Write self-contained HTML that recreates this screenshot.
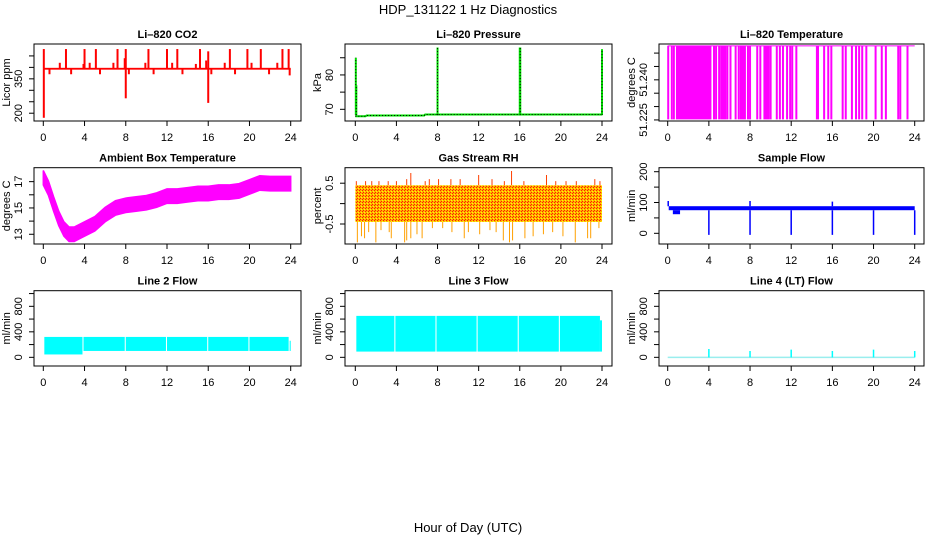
<!DOCTYPE html>
<html><head><meta charset="utf-8">
<style>
html,body{margin:0;padding:0;background:#fff;}
svg{display:block;font-family:"Liberation Sans",sans-serif;}
</style></head>
<body>
<svg id="chart" width="936" height="540" viewBox="0 0 936 540" xmlns="http://www.w3.org/2000/svg">
<defs>
<pattern id="rhpat" width="3" height="3" patternUnits="userSpaceOnUse">
<rect width="3" height="3" fill="#ffb000"/>
<rect x="0" y="0" width="1" height="1" fill="#ff2000"/>
<rect x="2" y="1" width="1" height="1" fill="#ff2000"/>
<rect x="1" y="2" width="1" height="1" fill="#ffff00"/>
</pattern>
</defs>
<text x="468" y="14" font-size="13" text-anchor="middle">HDP_131122  1 Hz Diagnostics</text>
<text x="468" y="532" font-size="13" text-anchor="middle">Hour of Day (UTC)</text>
</svg>
<script>
// ---- data ----
const xTicks = [0,4,8,12,16,20,24];
const co2Base = 394;
const co2SpikeHours = [0.05,2.2,4.0,5.1,7.2,8.0,10.2,12.0,13.0,15.2,16.0,18.1,19.8,21.1,23.2,23.8,1.6,3.9,4.5,6.8,7.9,9.9,12.5,14.8,15.8,17.6,20.2,22.7,0.6,2.7,5.5,8.3,10.7,13.5,16.3,18.6,21.9,23.9,0.05,8.0,16.0];
const co2SpikeValues = [480,480,480,480,480,480,480,480,480,480,470,480,480,480,480,480,420,415,420,420,440,420,420,415,430,420,420,420,370,370,370,370,370,370,370,370,370,365,180,265,245];
const presHours = [0,1,1.1,6.7,6.8,24];
const presValues = [68.0,68.0,68.2,68.2,68.5,68.5];
const presSpikeHours = [0.05,0.1,8.0,16.0,16.05,24.0];
const presSpikeValues = [85,77,88,88,88,87.5];
const tempHigh = 51.2527, tempLow = 51.2252;
const tempDenseStart = [0.8,5.1,7.0,9.3,14.4];
const tempDenseEnd = [4.25,5.7,7.6,9.9,14.7];
const tempFlipHours = [0.05,0.4,0.6,4.5,4.7,5.0,5.8,6.1,6.6,6.9,7.8,8.0,8.7,9.0,10.0,10.6,10.9,11.2,11.6,11.9,12.1,12.5,15.2,15.6,15.9,17.0,17.3,17.9,18.3,18.6,18.9,19.3,20.2,20.8,21.2,22.4,22.6,23.3];
const ambHours = [0,0.5,1,1.5,2,2.5,3,3.5,4,5,6,7,8,9,10,11,12,13,14,15,16,17,18,19,20,21,22,23,24];
const ambValues = [17.3,16.5,15.3,14.2,13.4,13.0,13.0,13.2,13.4,13.8,14.5,15.0,15.2,15.3,15.4,15.6,15.9,15.9,16.0,16.1,16.1,16.2,16.2,16.3,16.6,16.9,16.85,16.85,16.85];
const ambHalfWidth = 0.55;
const rhTop = 0.45, rhBottom = -0.45;
const rhUpHours = [0.1,1.0,1.6,2.3,3.2,4.0,5.0,5.4,6.8,7.2,8.1,9.3,10.2,12.0,13.3,14.5,15.2,16.4,18.6,19.5,20.5,21.5,23.3,23.8];
const rhUpValues = [0.55,0.55,0.55,0.55,0.55,0.55,0.6,0.75,0.55,0.6,0.6,0.6,0.6,0.7,0.6,0.55,0.8,0.55,0.7,0.55,0.55,0.55,0.6,0.55];
const rhDownHours = [0.2,0.6,0.9,1.3,2.0,2.5,3.3,3.5,4.8,5.0,5.4,6.0,6.5,7.5,8.5,9.4,10.6,11.0,12.1,13.1,13.7,14.4,15.0,15.3,16.5,17.3,18.3,19.2,20.2,21.4,22.6,22.9,23.7];
const rhDownValues = [-0.95,-0.8,-0.85,-0.7,-0.95,-0.65,-0.7,-0.85,-0.95,-0.9,-0.85,-0.75,-0.85,-0.6,-0.6,-0.7,-0.85,-0.7,-0.75,-0.65,-0.7,-0.9,-0.95,-0.9,-0.85,-0.8,-0.75,-0.7,-0.8,-0.95,-0.85,-0.85,-0.6];
const sfLow = 75, sfHigh = 88;
const sfDipHours = [4,8,12,16,20,24];
const sfDipValues = [-5,-5,-5,-5,-5,-5];
const sfSpikeHours = [0.05,8.0,16.0];
const sfSpikeValues = [105,105,103];
const l2Start = [0.1,3.9,8.0,12.0,16.0,20.0,23.9];
const l2End = [3.8,7.9,11.9,15.9,19.9,23.8,24.0];
const l2Low = [45,100,100,100,100,100,100];
const l2High = [320,320,320,320,320,320,260];
const l3Start = [0.1,3.9,7.9,11.9,15.9,19.9,23.8];
const l3End = [3.8,7.8,11.8,15.8,19.8,23.8,24.0];
const l3Low = [90,90,90,90,90,90,90];
const l3High = [650,650,650,650,650,650,580];
const l4SpikeHours = [4,8,12,16,20,24];
const l4SpikeValues = [130,100,120,100,120,100];

// ---- layout ----
const NS = "http://www.w3.org/2000/svg";
const svg = document.getElementById('chart');
const cols = [{bx0:34,bx1:301,x0:43.3,x1:290.7},{bx0:345,bx1:612,x0:355.3,x1:602},{bx0:659,bx1:924,x0:667.7,x1:914.7}];
const rows = [{by0:44,by1:121},{by0:167.7,by1:244},{by0:290.7,by1:366}];
function mk(tag, attrs, parent){const e=document.createElementNS(NS,tag);for(const k in attrs)e.setAttribute(k,attrs[k]);(parent||svg).appendChild(e);return e;}

function panel(ci, ri, name, title, ylab, ymin, ymax, ticks, labels, draw){
  const c=cols[ci], r=rows[ri];
  const g=mk('g',{});
  
  
  const X=h=>c.x0+(c.x1-c.x0)*h/24;
  const Y=v=>r.by1-(r.by1-r.by0)*(v-ymin)/(ymax-ymin);
  const cid='clip-'+name;
  const cp=mk('clipPath',{id:cid},g); mk('rect',{x:c.bx0,y:r.by0,width:c.bx1-c.bx0,height:r.by1-r.by0},cp);
  const plot=mk('g',{'clip-path':'url(#'+cid+')'},g);
  
  
  draw(plot,X,Y);
  const box=mk('rect',{x:c.bx0,y:r.by0,width:c.bx1-c.bx0,height:r.by1-r.by0,fill:'none',stroke:'#000','stroke-width':1},g);
  
  
  const t=mk('text',{x:(c.bx0+c.bx1)/2,y:r.by0-6,'font-size':11,'font-weight':'bold','text-anchor':'middle'},g);
  t.textContent=title;
  
  
  // x axis
  const xa=mk('g',{},g);
  
  
  xTicks.forEach(h=>{
    mk('line',{x1:X(h),x2:X(h),y1:r.by1,y2:r.by1+5,stroke:'#000'},xa);
    const tx=mk('text',{x:X(h),y:r.by1+20,'font-size':11,'text-anchor':'middle'},xa); tx.textContent=h;
  });
  // y axis
  const ya=mk('g',{},g);
  
  
  ticks.forEach(v=>{ mk('line',{x1:c.bx0-5,x2:c.bx0,y1:Y(v),y2:Y(v),stroke:'#000'},ya); });
  labels.forEach(v=>{
    const lx=c.bx0-12, ly=Y(v);
    const tx=mk('text',{x:lx,y:ly,'font-size':11,'text-anchor':'middle',transform:`rotate(-90 ${lx} ${ly})`},ya);
    tx.textContent=(typeof v==='number'&&v%1!==0&&Math.abs(v)>10)?v.toFixed(3):v;
  });
  const yl=c.bx0-24, yy=(r.by0+r.by1)/2;
  const yt=mk('text',{x:yl,y:yy,'font-size':11,'text-anchor':'middle',transform:`rotate(-90 ${yl} ${yy})`},g);
  yt.textContent=ylab;
  
  
}
function vline(p,x,y1,y2,col,w){return mk('line',{x1:x,x2:x,y1:y1,y2:y2,stroke:col,'stroke-width':w||1},p);}

// CO2
panel(0,0,'co2','Li\u2013820 CO2','Licor ppm',166,502,[200,250,300,350,400,450],[200,350],(p,X,Y)=>{
  mk('rect',{x:X(0),y:Y(co2Base+4),width:X(24)-X(0),height:Y(co2Base-4)-Y(co2Base+4),fill:'#ff0000'},p);
  co2SpikeHours.forEach((h,i)=>{vline(p,X(h),Y(co2Base),Y(co2SpikeValues[i]),'#ff0000',2);});
});
// Pressure
panel(1,0,'pressure','Li\u2013820 Pressure','kPa',66.6,89,[70,75,80,85],[70,80],(p,X,Y)=>{
  const pts=presHours.map((h,i)=>X(h)+','+Y(presValues[i])).join(' ');
  mk('polyline',{points:pts,fill:'none',stroke:'#00e000','stroke-width':2},p);
  mk('polyline',{points:pts,fill:'none',stroke:'#000','stroke-width':1,'stroke-dasharray':'1,2'},p);
  presSpikeHours.forEach((h,i)=>{vline(p,X(h),Y(68.3),Y(presSpikeValues[i]),'#00e000',2);
    mk('line',{x1:X(h),x2:X(h),y1:Y(68.3),y2:Y(presSpikeValues[i]),stroke:'#000','stroke-dasharray':'1,2'},p);});
});
// Temperature
panel(2,0,'li820-temp','Li\u2013820 Temperature','degrees C',51.2246,51.2534,[51.225,51.23,51.235,51.24,51.245,51.25],[51.225,51.24],(p,X,Y)=>{
  vline(p,0,0,0,'none');
  mk('line',{x1:X(0),x2:X(24),y1:Y(tempHigh),y2:Y(tempHigh),stroke:'#ff00ff'},p);
  tempDenseStart.forEach((s,i)=>{mk('rect',{x:X(s),y:Y(tempHigh),width:X(tempDenseEnd[i])-X(s),height:Y(tempLow)-Y(tempHigh),fill:'#ff00ff'},p);});
  tempFlipHours.forEach(h=>{vline(p,X(h),Y(tempHigh),Y(tempLow),'#ff00ff',2);});
});
// Ambient
panel(0,1,'ambient-temp','Ambient Box Temperature','degrees C',12.26,18.06,[13,14,15,16,17],[13,15,17],(p,X,Y)=>{
  const up=ambHours.map((h,i)=>X(h)+','+Y(ambValues[i]+ambHalfWidth));
  const dn=ambHours.map((h,i)=>X(h)+','+Y(ambValues[i]-ambHalfWidth)).reverse();
  mk('polygon',{points:up.concat(dn).join(' '),fill:'#ff00ff',stroke:'#ff00ff','stroke-width':1.5},p);
});
// RH
panel(1,1,'gas-rh','Gas Stream RH','percent',-0.99,0.88,[-0.5,0,0.5],[-0.5,0.5],(p,X,Y)=>{
  mk('rect',{x:X(0),y:Y(rhTop),width:X(24)-X(0),height:Y(rhBottom)-Y(rhTop),fill:'url(#rhpat)'},p);
  rhUpHours.forEach((h,i)=>{vline(p,X(h),Y(rhTop),Y(rhUpValues[i]),'#ff4000',1);});
  rhDownHours.forEach((h,i)=>{vline(p,X(h),Y(rhBottom),Y(rhDownValues[i]),'#ffa000',1);});
});
// Sample flow
panel(2,1,'sample-flow','Sample Flow','ml/min',-34.7,213,[0,50,100,150,200],[0,100,200],(p,X,Y)=>{
  mk('rect',{x:X(0.1),y:Y(sfHigh),width:X(24)-X(0.1),height:Y(sfLow)-Y(sfHigh),fill:'#0000ff'},p);
  mk('rect',{x:X(0.5),y:Y(sfLow),width:X(1.2)-X(0.5),height:Y(62)-Y(sfLow),fill:'#0000ff'},p);
  sfDipHours.forEach((h,i)=>{vline(p,X(h),Y(sfLow),Y(sfDipValues[i]),'#0000ff',1.5);});
  sfSpikeHours.forEach((h,i)=>{vline(p,X(h),Y(sfHigh),Y(sfSpikeValues[i]),'#0000ff',1.5);});
});
// Line 2
const flowTicks=[0,200,400,600,800,1000], flowLabels=[0,400,800];
panel(0,2,'line2-flow','Line 2 Flow','ml/min',-136,1045,flowTicks,flowLabels,(p,X,Y)=>{
  l2Start.forEach((s,i)=>{mk('rect',{x:X(s),y:Y(l2High[i]),width:X(l2End[i])-X(s),height:Y(l2Low[i])-Y(l2High[i]),fill:'#00ffff'},p);});
});
// Line 3
panel(1,2,'line3-flow','Line 3 Flow','ml/min',-136,1045,flowTicks,flowLabels,(p,X,Y)=>{
  l3Start.forEach((s,i)=>{mk('rect',{x:X(s),y:Y(l3High[i]),width:X(l3End[i])-X(s),height:Y(l3Low[i])-Y(l3High[i]),fill:'#00ffff'},p);});
});
// Line 4
panel(2,2,'line4-flow','Line 4 (LT) Flow','ml/min',-136,1045,flowTicks,flowLabels,(p,X,Y)=>{
  mk('line',{x1:X(0),x2:X(24),y1:Y(0),y2:Y(0),stroke:'#9ee',"stroke-width":1.5},p);
  l4SpikeHours.forEach((h,i)=>{vline(p,X(h),Y(0),Y(l4SpikeValues[i]),'#00ffff',1.5);});
});
</script>
</body></html>
